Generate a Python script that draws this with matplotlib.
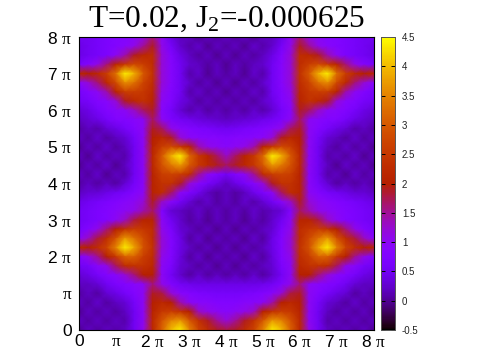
import numpy as np
import matplotlib
matplotlib.use("Agg")
import matplotlib.pyplot as plt

plt.rcParams['font.family'] = ['Liberation Sans', 'DejaVu Sans']
plt.rcParams['mathtext.fontset'] = 'custom'
plt.rcParams['mathtext.rm'] = 'Liberation Serif'
plt.rcParams['mathtext.it'] = 'Liberation Serif'
plt.rcParams['mathtext.default'] = 'regular'

# grid positions in units of pi
qx = [0,.25,.5,.75,1,1.25,1.5,1.75,2,2.25,2.5,2.75,3,3.25,3.5,3.75,4,4.25,4.5,4.75,5,5.25,5.5,5.75,6,6.25,6.5,6.75,7,7.25,7.5,7.75,8]
qy = [8,7.75,7.5,7.25,7,6.75,6.5,6.25,6,5.75,5.5,5.25,5,4.75,4.5,4.25,4,3.75,3.5,3.25,3,2.75,2.5,2.25,2,1.75,1.5,1.25,1,.75,.5,.25,0]

# values, top row first
S = [
[.5,.5,.6,.7,.8,.8,.9,1.1,1.6,1.0,.4,.2,.2,0,.2,.05,.2,.05,.2,0,.2,.2,.4,1.0,1.6,1.1,.9,.8,.8,.7,.6,.5,.5],
[.4,.5,.6,.7,.8,.9,1.1,1.5,1.9,1.1,.6,.25,.1,.25,0,.2,.05,.2,0,.25,.1,.25,.6,1.1,1.9,1.5,1.1,.9,.8,.7,.6,.5,.4],
[.4,.5,.6,.7,1.0,1.4,1.9,2.2,2.3,1.2,.8,.4,.2,.05,.2,0,.2,0,.2,.05,.2,.4,.8,1.2,2.3,2.2,1.9,1.4,1.0,.7,.6,.5,.4],
[.6,.8,1.1,1.6,2.1,2.5,2.8,2.6,2.3,1.2,.85,.5,.25,.2,.05,.2,0,.2,.05,.2,.25,.5,.85,1.2,2.3,2.6,2.8,2.5,2.1,1.6,1.1,.8,.6],
[2.2,2.0,2.2,2.6,3.3,4.4,3.9,3.0,2.4,1.2,.85,.5,.1,.25,0,.2,.05,.2,0,.25,.1,.5,.85,1.2,2.4,3.0,3.9,4.4,3.3,2.6,2.2,2.0,2.2],
[.9,1.2,1.6,2.2,2.8,3.6,3.3,2.7,2.3,1.2,.85,.5,.25,.05,.2,0,.2,0,.2,.05,.25,.5,.85,1.2,2.3,2.7,3.3,3.6,2.8,2.2,1.6,1.2,.9],
[.6,.8,1.0,1.4,2.1,2.6,2.6,2.5,2.2,1.1,.8,.5,.1,.25,.05,.2,0,.2,.05,.25,.1,.5,.8,1.1,2.2,2.5,2.6,2.6,2.1,1.4,1.0,.8,.6],
[.5,.6,.8,.9,1.2,1.9,2.2,2.4,2.1,1.0,.75,.4,.25,.05,.2,.05,.2,.05,.2,.05,.25,.4,.75,1.0,2.1,2.4,2.2,1.9,1.2,.9,.8,.6,.5],
[.3,.4,.6,.8,.9,1.0,1.3,1.7,1.9,.9,.6,.3,.1,.25,.05,.2,.05,.2,.05,.25,.1,.3,.6,.9,1.9,1.7,1.3,1.0,.9,.8,.6,.4,.3],
[.2,.3,.4,.6,.8,.8,.9,1.0,1.7,1.0,.7,.55,.45,.35,.3,.25,.2,.25,.3,.35,.45,.55,.7,1.0,1.7,1.0,.9,.8,.8,.6,.4,.3,.2],
[.05,.2,.1,.3,.4,.6,.8,1.0,1.9,1.7,1.1,.9,.8,.7,.65,.55,.5,.55,.65,.7,.8,.9,1.1,1.7,1.9,1.0,.8,.6,.4,.3,.1,.2,.05],
[.2,.05,.25,.05,.2,.3,.6,1.0,2.0,2.2,1.9,1.2,.95,.9,.85,.85,.8,.85,.85,.9,.95,1.2,1.9,2.2,2.0,1.0,.6,.3,.2,.05,.25,.05,.2],
[0,.2,.05,.25,.05,.2,.5,1.0,2.1,2.6,2.8,2.5,2.1,1.4,1.1,1.0,.9,1.0,1.1,1.4,2.1,2.5,2.8,2.6,2.1,1.0,.5,.2,.05,.25,.05,.2,0],
[.2,0,.25,.05,.2,.1,.5,1.0,2.2,3.0,3.9,4.4,3.2,2.5,2.1,1.7,1.3,1.7,2.1,2.5,3.2,4.4,3.9,3.0,2.2,1.0,.5,.1,.2,.05,.25,0,.2],
[0,.2,.05,.25,0,.2,.5,1.0,2.2,2.9,3.4,3.7,3.0,2.5,2.2,1.9,1.7,1.9,2.2,2.5,3.0,3.7,3.4,2.9,2.2,1.0,.5,.2,0,.25,.05,.2,0],
[.2,.05,.25,0,.2,.1,.5,.95,2.1,2.6,2.7,2.6,2.3,1.5,1.0,.8,.55,.8,1.0,1.5,2.3,2.6,2.7,2.6,2.1,.95,.5,.1,.2,0,.25,.05,.2],
[.05,.2,.05,.2,.05,.3,.6,.95,2.1,2.4,2.4,1.9,1.2,.85,.6,.4,.2,.4,.6,.85,1.2,1.9,2.4,2.4,2.1,.95,.6,.3,.05,.2,.05,.2,.05],
[.2,.3,.3,.4,.5,.6,.8,1.0,2.1,2.3,1.7,1.0,.7,.45,.2,.05,.2,.05,.2,.45,.7,1.0,1.7,2.3,2.1,1.0,.8,.6,.5,.4,.3,.3,.2],
[.4,.5,.6,.7,.8,.9,1.0,1.2,1.9,1.3,.9,.55,.3,.1,.25,.05,.2,.05,.25,.1,.3,.55,.9,1.3,1.9,1.2,1.0,.9,.8,.7,.6,.5,.4],
[.5,.6,.7,.8,.9,1.0,1.1,1.4,1.7,.8,.3,.2,.1,.25,.05,.2,.05,.2,.05,.25,.1,.2,.3,.8,1.7,1.4,1.1,1.0,.9,.8,.7,.6,.5],
[.5,.6,.7,.8,1.0,1.3,1.8,2.1,2.1,1.0,.5,.25,.05,.2,0,.2,.05,.2,0,.2,.05,.25,.5,1.0,2.1,2.1,1.8,1.3,1.0,.8,.7,.6,.5],
[.6,.8,1.1,1.6,2.0,2.4,2.6,2.5,2.3,1.1,.7,.3,.2,.05,.2,0,.2,0,.2,.05,.2,.3,.7,1.1,2.3,2.5,2.6,2.4,2.0,1.6,1.1,.8,.6],
[.9,1.3,1.8,2.3,2.9,3.7,3.3,2.8,2.3,1.2,.8,.4,.05,.25,0,.2,.05,.2,0,.25,.05,.4,.8,1.2,2.3,2.8,3.3,3.7,2.9,2.3,1.8,1.3,.9],
[2.2,2.0,2.3,2.7,3.5,4.4,3.8,2.9,2.4,1.2,.8,.4,.2,.05,.2,0,.2,0,.2,.05,.2,.4,.8,1.2,2.4,2.9,3.8,4.4,3.5,2.7,2.3,2.0,2.2],
[.8,1.1,1.5,2.0,2.5,3.1,3.1,2.6,2.3,1.1,.8,.35,.05,.25,0,.2,.05,.2,0,.25,.05,.35,.8,1.1,2.3,2.6,3.1,3.1,2.5,2.0,1.5,1.1,.8],
[.5,.6,.9,1.1,1.7,2.3,2.4,2.4,2.2,1.0,.7,.3,.2,.05,.2,0,.2,0,.2,.05,.2,.3,.7,1.0,2.2,2.4,2.4,2.3,1.7,1.1,.9,.6,.5],
[.3,.4,.6,.8,.9,1.2,1.6,2.0,2.0,1.0,.55,.25,.05,.25,.05,.2,.05,.2,.05,.25,.05,.25,.55,1.0,2.0,2.0,1.6,1.2,.9,.8,.6,.4,.3],
[.2,.2,.3,.5,.7,.8,.9,1.0,1.6,1.1,.75,.55,.45,.4,.4,.4,.4,.4,.4,.4,.45,.55,.75,1.1,1.6,1.0,.9,.8,.7,.5,.3,.2,.2],
[.05,.2,.05,.3,.4,.6,.8,1.0,1.9,1.8,1.2,.9,.8,.7,.65,.6,.6,.6,.65,.7,.8,.9,1.2,1.8,1.9,1.0,.8,.6,.4,.3,.05,.2,.05],
[.2,.05,.25,.05,.2,.3,.6,1.0,2.0,2.2,2.0,1.4,1.0,.9,.9,.8,.8,.8,.9,.9,1.0,1.4,2.0,2.2,2.0,1.0,.6,.3,.2,.05,.25,.05,.2],
[0,.2,.05,.2,.05,.2,.5,1.0,2.1,2.5,2.6,2.4,2.0,1.3,1.1,1.0,.9,1.0,1.1,1.3,2.0,2.4,2.6,2.5,2.1,1.0,.5,.2,.05,.2,.05,.2,0],
[.2,.05,.2,.05,.2,.1,.5,1.0,2.2,2.9,3.5,3.7,3.0,2.4,1.9,1.5,1.2,1.5,1.9,2.4,3.0,3.7,3.5,2.9,2.2,1.0,.5,.1,.2,.05,.2,.05,.2],
[0,.2,.05,.2,.1,.2,.5,1.1,2.2,3.1,4.0,4.4,3.5,2.7,2.3,1.9,1.8,1.9,2.3,2.7,3.5,4.4,4.0,3.1,2.2,1.1,.5,.2,.1,.2,.05,.2,0],
]

tick_pos = [0,1,2,3,4,5,6,7,8]
xlabels = ['0', r'$\mathrm{\pi}$', r'2 $\mathrm{\pi}$', r'3 $\mathrm{\pi}$', r'4 $\mathrm{\pi}$', r'5 $\mathrm{\pi}$', r'6 $\mathrm{\pi}$', r'7 $\mathrm{\pi}$', r'8 $\mathrm{\pi}$']
cb_ticks = [-0.5,0,0.5,1,1.5,2,2.5,3,3.5,4,4.5]
cb_labels = ['-0.5','0','0.5','1','1.5','2','2.5','3','3.5','4','4.5']

W,H = 500,350
fig = plt.figure(figsize=(W/100,H/100),dpi=100)
ax = fig.add_axes([79/W,1-330/H,(373.5-79)/W,(330-37)/H])
m = ax.pcolormesh(qx,qy,np.array(S),shading='gouraud',cmap='gnuplot',vmin=-0.5,vmax=4.5,rasterized=True)
ax.set_xlim(0,8); ax.set_ylim(0,8)
ax.set_xticks(tick_pos); ax.set_xticklabels(xlabels,fontsize=12.5)
ax.set_yticks(tick_pos); ax.set_yticklabels(xlabels,fontsize=12.5)
ax.tick_params(length=0)
ax.tick_params(axis='y',pad=5)
ax.tick_params(axis='x',pad=3)
ax.set_title(r'T=0.02, J$_2$=-0.000625',family=['Liberation Serif','DejaVu Serif'],fontsize=22.5,pad=7)

# colour box
cax = fig.add_axes([381/W,1-330/H,(395-381)/W,(330-37)/H])
cb = fig.colorbar(m,cax=cax)
cb.set_ticks(cb_ticks,labels=cb_labels)
cax.tick_params(axis='y',direction='in',length=3,width=.7,left=True,right=True,labelsize=7,pad=5,labelcolor='#222222')
cb.outline.set_edgecolor('#555555')
cb.outline.set_linewidth(.7)

fig.savefig('out.png',dpi=100)
